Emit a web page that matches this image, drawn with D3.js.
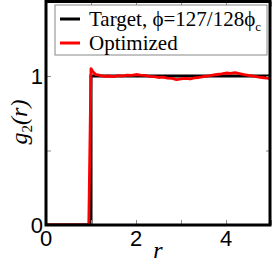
<!DOCTYPE html>
<html><head><meta charset="utf-8">
<script src="https://cdn.jsdelivr.net/npm/d3@7"></script>
<style>body{margin:0;background:#fff}</style>
</head><body>
<script>
const xTicks = [0, 2, 4];
const xMinor = [1, 3, 5];
const yTicks = [0, 1];
const yMinor = [0.5, 1.5];
const targetR = [0, 1, 1, 5];
const targetG = [0, 0, 1, 1];
const optR = [0, 0.95, 1.0, 1.03, 1.07, 1.1, 1.15, 1.2, 1.3, 1.4, 1.5, 1.6, 1.7, 1.8, 1.9, 2.0, 2.1, 2.2, 2.3, 2.4, 2.5, 2.6, 2.7, 2.8, 2.9, 3.0, 3.1, 3.2, 3.3, 3.4, 3.5, 3.6, 3.7, 3.8, 3.9, 4.0, 4.1, 4.2, 4.3, 4.4, 4.5, 4.6, 4.7, 4.8, 4.9, 5.0];
const optG = [0, 0, 1.05, 1.035, 1.02, 1.01, 1.008, 1.004, 0.998, 1.0, 0.996, 1.002, 1.0, 1.006, 1.004, 1.01, 1.006, 1.004, 0.998, 0.996, 0.99, 0.992, 0.986, 0.984, 0.976, 0.98, 0.984, 0.98, 0.988, 0.99, 0.996, 1.0, 1.006, 1.01, 1.014, 1.02, 1.018, 1.022, 1.016, 1.01, 1.004, 1.0, 0.994, 0.99, 0.986, 0.982];

const W = 273, H = 262;
const svg = d3.select("body").append("svg").attr("width", W).attr("height", H);
const x = d3.scaleLinear().domain([0, 5]).range([46, 271]);
const y = d3.scaleLinear().domain([0, 1.5]).range([225, 1.5]);

svg.append("clipPath").attr("id", "c").append("rect")
  .attr("x", 46).attr("y", 1.5).attr("width", 225).attr("height", 223.5);

const line = d3.line().x(d => x(d[0])).y(d => y(d[1]));
const g = svg.append("g").attr("clip-path", "url(#c)");
g.append("path").datum(targetR.map((r, i) => [r, targetG[i]]))
  .attr("d", line).attr("fill", "none").attr("stroke", "#000").attr("stroke-width", 3);
g.append("path").datum(optR.map((r, i) => [r, optG[i]]))
  .attr("d", line).attr("fill", "none").attr("stroke", "#ff0000").attr("stroke-width", 2.8)
  .attr("stroke-linejoin", "round");

// ticks (inward)
const tickCol = "#888";
const bottomAxis = d3.axisBottom(x).tickValues(xTicks.concat(xMinor)).tickSize(-5).tickFormat("");
const topAxis = d3.axisTop(x).tickValues(xTicks.concat(xMinor)).tickSize(-5).tickFormat("");
const leftAxis = d3.axisLeft(y).tickValues(yTicks.concat(yMinor)).tickSize(-5).tickFormat("");
const rightAxis = d3.axisRight(y).tickValues(yTicks.concat(yMinor)).tickSize(-5).tickFormat("");
[[bottomAxis, "translate(0,225)"], [topAxis, "translate(0,1.5)"], [leftAxis, "translate(46,0)"], [rightAxis, "translate(271,0)"]].forEach(([ax, t]) => {
  const a = svg.append("g").attr("transform", t).call(ax);
  a.select(".domain").remove();
  a.selectAll("line").attr("stroke", tickCol).attr("stroke-width", 1);
});

// frame
svg.append("rect").attr("x", 46).attr("y", 1.5).attr("width", 224).attr("height", 223.5)
  .attr("fill", "none").attr("stroke", "#000").attr("stroke-width", 3);

// tick labels
svg.selectAll(".xl").data(xTicks).enter().append("text")
  .attr("x", d => x(d)).attr("y", 246).attr("text-anchor", "middle")
  .attr("font-family", "Liberation Sans, Arial, sans-serif").attr("font-size", 22).text(d => d);
svg.selectAll(".yl").data(yTicks).enter().append("text")
  .attr("x", 43).attr("y", d => y(d) + 8).attr("text-anchor", "end")
  .attr("font-family", "Liberation Sans, Arial, sans-serif").attr("font-size", 22).text(d => d);

// axis titles
svg.append("text").attr("x", 158).attr("y", 258).attr("text-anchor", "middle")
  .attr("font-family", "Liberation Serif, Times New Roman, serif").attr("font-style", "italic")
  .attr("font-size", 24).text("r");
const yt = svg.append("text").attr("transform", "translate(27,122) rotate(-90)").attr("text-anchor", "middle")
  .attr("font-family", "Liberation Serif, Times New Roman, serif").attr("font-style", "italic").attr("font-size", 24);
yt.append("tspan").text("g");
yt.append("tspan").attr("font-size", 15).attr("dy", 5).attr("font-style", "normal").text("2");
yt.append("tspan").attr("dy", -5).text("(r)");

// legend
const lg = svg.append("g");
lg.append("rect").attr("x", 55).attr("y", 5).attr("width", 212).attr("height", 50)
  .attr("fill", "#fff").attr("stroke", "#888").attr("stroke-width", 1);
const legItems = [{c: "#000", y: 19}, {c: "#ff0000", y: 43}];
legItems.forEach(it => {
  lg.append("line").attr("x1", 60).attr("x2", 80).attr("y1", it.y).attr("y2", it.y)
    .attr("stroke", it.c).attr("stroke-width", 3);
});
const t1 = lg.append("text").attr("x", 89).attr("y", 26)
  .attr("font-family", "Liberation Serif, Times New Roman, serif").attr("font-size", 21);
t1.append("tspan").text("Target, ϕ=127/128ϕ");
t1.append("tspan").attr("font-size", 13).attr("dy", 5).text("c");
lg.append("text").attr("x", 89).attr("y", 50)
  .attr("font-family", "Liberation Serif, Times New Roman, serif").attr("font-size", 21).text("Optimized");
</script>
</body></html>
